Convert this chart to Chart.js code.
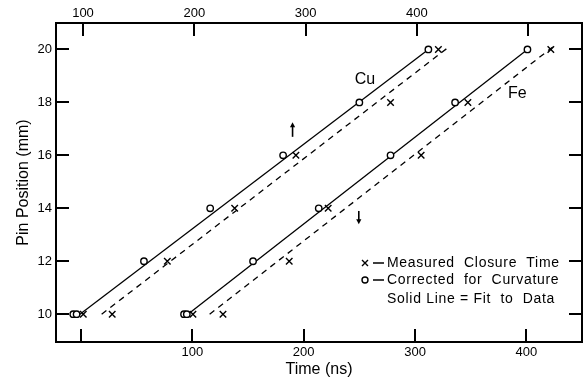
<!DOCTYPE html>
<html>
<head>
<meta charset="utf-8">
<script src="https://cdn.jsdelivr.net/npm/chart.js@4/dist/chart.umd.min.js"></script>
<style>
html,body{margin:0;background:#fff;overflow:hidden;}
canvas{display:block;}
</style>
</head>
<body>
<!-- a few px wider than the window: Chart.js leaves a small gap right of the last axis -->
<canvas id="pinChart" width="588" height="383"></canvas>
<script>

/* DATA */

const pins=[10,10,12,14,16,18,20];

const cuMeasured=[2,28,77.5,138,193,278,321];
const cuCorrected=[-7,-4,56.5,116,181.5,250,312];

const feMeasured=[100.5,127.5,187,222,305.5,347.5,422];
const feCorrected=[92.5,95,154.5,213.5,278,336,401];

// fit lines: [time, pin] ends
const cuFitTime=[-1,312], cuFitPin=[10,20];
const cuDashTime=[18.5,329], cuDashPin=[10,20.05];
const feFitTime=[96,401], feFitPin=[10,20];
const feDashTime=[115.5,426], feDashPin=[10,20.17];

const bottomTicks=[0,100,200,300,400];
const topTicks=[100,200,300,400,500];
const pinTicks=[10,12,14,16,18,20];

const FONT='"Liberation Sans", Arial, sans-serif';

const pts=(t,p)=>t.map((v,i)=>({x:v,y:p[i]}));

const marks=(data,style)=>({
data,
showLine:false,
pointStyle:style,
pointRadius:style==="circle"?3.2:4.6,
pointBorderWidth:1.4,
pointBorderColor:"#000",
pointBackgroundColor:"#fff",
order:0
});

const fit=(data,dash)=>({
data,
showLine:true,
borderColor:"#000",
borderWidth:1.3,
borderDash:dash,
pointRadius:0,
fill:false,
order:1
});

/* NOTES + LEGEND */

function arrow(ctx,x,y1,y2){
const dir=y2<y1?-1:1;
ctx.beginPath();
ctx.moveTo(x,y1);
ctx.lineTo(x,y2-dir*4);
ctx.lineWidth=1.6;
ctx.stroke();
ctx.beginPath();
ctx.moveTo(x,y2);
ctx.lineTo(x-2.6,y2-dir*5);
ctx.lineTo(x+2.6,y2-dir*5);
ctx.closePath();
ctx.fill();
}

const notes={
id:"notes",
afterDraw(c){
const {ctx}=c;
const x=c.scales.x, y=c.scales.y;
ctx.save();
ctx.fillStyle="#000";
ctx.strokeStyle="#000";
ctx.font="16px "+FONT;
ctx.textAlign="center";
ctx.textBaseline="middle";
ctx.fillText("Cu",x.getPixelForValue(255),y.getPixelForValue(18.88));
ctx.fillText("Fe",x.getPixelForValue(392),y.getPixelForValue(18.35));

arrow(ctx,x.getPixelForValue(190),y.getPixelForValue(16.7),y.getPixelForValue(17.25));
arrow(ctx,x.getPixelForValue(249.5),y.getPixelForValue(13.9),y.getPixelForValue(13.4));

// legend
ctx.font="14px "+FONT;
ctx.letterSpacing="0.7px";
ctx.textAlign="left";
ctx.lineWidth=1.4;
const lx=365;
// x
ctx.beginPath();
ctx.moveTo(lx-3,260);ctx.lineTo(lx+3,266);
ctx.moveTo(lx+3,260);ctx.lineTo(lx-3,266);
ctx.stroke();
// o
ctx.beginPath();
ctx.arc(lx,280,3,0,Math.PI*2);
ctx.stroke();
ctx.beginPath();
ctx.moveTo(373,263);ctx.lineTo(384,263);
ctx.moveTo(373,280);ctx.lineTo(384,280);
ctx.stroke();
ctx.fillText("Measured  Closure  Time",387,263);
ctx.fillText("Corrected  for  Curvature",387,280);
ctx.fillText("Solid Line = Fit  to  Data",387,299);
ctx.restore();
}
};

/* CHART */

const tickGrid={
drawOnChartArea:false,
drawTicks:true,
tickLength:-13,
color:"#000",
lineWidth:2
};
const frame={display:true,color:"#000",width:2};

function size(w,h){
return s=>{
if(w!=null) s.width=w;
if(h!=null) s.height=h;
s.paddingLeft=0;s.paddingRight=0;s.paddingTop=0;s.paddingBottom=0;
};
}

new Chart(document.getElementById("pinChart"),{
type:"scatter",
data:{
datasets:[
fit(pts(cuFitTime,cuFitPin),[]),
fit(pts(cuDashTime,cuDashPin),[6,5]),
fit(pts(feFitTime,feFitPin),[]),
fit(pts(feDashTime,feDashPin),[6,5]),
marks(pts(cuMeasured,pins),"crossRot"),
marks(pts(cuCorrected,pins),"circle"),
marks(pts(feMeasured,pins),"crossRot"),
marks(pts(feCorrected,pins),"circle")
]
},
options:{
responsive:false,
animation:false,
layout:{padding:0},
plugins:{legend:{display:false},tooltip:{enabled:false}},
scales:{
x:{
type:"linear",position:"bottom",min:-22.5,max:450,
grid:tickGrid,border:frame,
afterBuildTicks:s=>{s.ticks=bottomTicks.map(v=>({value:v}));},
afterFit:size(null,41),
ticks:{color:"#000",padding:16,font:{family:FONT,size:13},
callback:v=>v===0?"":v},
title:{display:true,text:"Time (ns)",color:"#000",
font:{family:FONT,size:16},padding:{top:0,bottom:4}}
},
x2:{
type:"linear",position:"top",min:75.75,max:548.25,
grid:tickGrid,border:frame,
afterBuildTicks:s=>{s.ticks=topTicks.map(v=>({value:v}));},
afterFit:size(null,23),
ticks:{color:"#000",padding:15,font:{family:FONT,size:13},
callback:v=>v===500?"":v}
},
y:{
type:"linear",position:"left",min:8.95,max:21,
grid:tickGrid,border:frame,
afterBuildTicks:s=>{s.ticks=pinTicks.map(v=>({value:v}));},
afterFit:size(56,null),
ticks:{color:"#000",padding:17,font:{family:FONT,size:13}},
title:{display:true,text:"Pin Position (mm)",color:"#000",
font:{family:FONT,size:16},padding:{top:14,bottom:0}}
},
y2:{
type:"linear",position:"right",min:8.95,max:21,
grid:tickGrid,border:frame,
afterBuildTicks:s=>{s.ticks=pinTicks.map(v=>({value:v}));},
afterFit:size(2,null),
ticks:{display:false}
}
}
},
plugins:[notes]
});

</script>
</body>
</html>
